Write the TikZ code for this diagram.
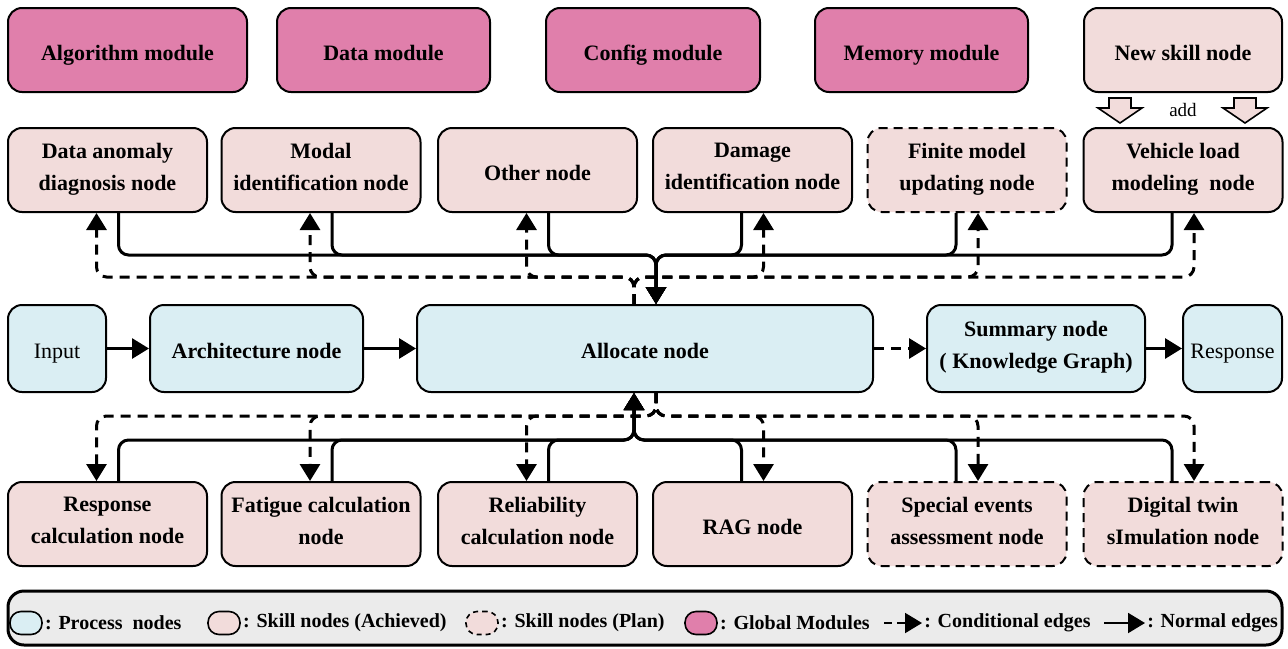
\documentclass[tikz,border=0pt]{standalone}
\usepackage{fontspec}
\setmainfont{Liberation Serif}
\usetikzlibrary{arrows.meta,positioning}

\definecolor{procblue}{HTML}{DAEEF3}
\definecolor{skillpink}{HTML}{F2DCDB}
\definecolor{modpink}{HTML}{E07FAB}
\definecolor{legendgray}{HTML}{EBEBEB}

\tikzset{
  box/.style={draw, line width=1pt, rounded corners=7pt, align=center,
    font=\fontsize{11}{16}\selectfont\bfseries, inner sep=2pt,
    execute at begin node={\rule{0pt}{13.5pt}}, execute at end node={\rule[-3.3pt]{0pt}{0pt}}},
  process/.style={box, fill=procblue, minimum height=43.5pt},
  plaintext/.style={font=\fontsize{11}{16}\selectfont},
  skill/.style={box, fill=skillpink, minimum width=99.5pt, minimum height=42pt},
  plan/.style={skill, dash pattern=on 4.5pt off 3pt},
  module/.style={box, fill=modpink, minimum height=42pt},
  normal/.style={line width=1.5pt, rounded corners=5pt, -{Triangle[length=8.5pt,width=10pt]}},
  cond/.style={normal, dash pattern=on 5pt off 3.5pt},
  keyshape/.style={draw, line width=0.8pt, rounded corners=5.5pt, minimum width=16pt, minimum height=11.5pt, inner sep=0pt},
  keytext/.style={font=\fontsize{10}{12}\selectfont\bfseries, inner sep=0pt}
}

\begin{document}
\begin{tikzpicture}[x=0.5pt,y=-0.5pt]
    \useasboundingbox (0,0) rectangle (1288,648);

    % global modules
    \node[module, minimum width=119.5pt] (algo) at (127.5,50) {Algorithm module};
    \node[module, minimum width=106.5pt] (data) at (383.5,50) {Data module};
    \node[module, minimum width=107pt] (config) at (653,50) {Config module};
    \node[module, minimum width=106.5pt] (memory) at (921.5,50) {Memory module};
    \node[skill, minimum width=99pt] (newskill) at (1183,50) {New skill node};

    % skill nodes, upper row
    \node[skill] (dan) at (107.5,170) {Data anomaly\\diagnosis node};
    \node[skill] (modal) at (321,170) {Modal\\identification node};
    \node[skill] (other) at (537.5,170) {Other node};
    \node[skill] (damage) at (752.5,170) {Damage\\identification node};
    \node[plan] (finite) at (967,170) {Finite model\\updating node};
    \node[skill] (vehicle) at (1183,170) {Vehicle load\\modeling\ \ node};

    % process nodes
    \node[process, plaintext, minimum width=49pt] (input) at (57,348.5) {Input};
    \node[process, minimum width=106.5pt] (arch) at (256.5,348.5) {Architecture node};
    \node[process, minimum width=228pt] (alloc) at (645,348.5) {Allocate node};
    \node[process, minimum width=109pt] (summary) at (1036,348.5) {Summary node\\( Knowledge Graph)};
    \node[process, plaintext, minimum width=49.5pt] (response) at (1232.5,348.5) {Response};

    % skill nodes, lower row
    \node[skill] (resp) at (107.5,524) {Response\\calculation node};
    \node[skill] (fatigue) at (321,524) {Fatigue calculation\\node};
    \node[skill] (reliab) at (537.5,524) {Reliability\\calculation node};
    \node[skill] (rag) at (752.5,524) {RAG node};
    \node[plan] (special) at (967,524) {Special events\\assessment node};
    \node[plan] (twin) at (1183,524) {Digital twin\\sImulation node};

    % add arrows
    \foreach \x in {1120,1245}{
        \draw[line width=0.8pt, fill=skillpink] (\x-11,98) -- (\x+11,98) -- (\x+11,108) -- (\x+22,108)
            -- (\x,123) -- (\x-22,108) -- (\x-11,108) -- cycle;
    }
    \node[plaintext, font=\fontsize{9.5}{11}\selectfont] (addlabel) at (1183,110) {add};

    % main flow
    \draw[normal] (input) -- (arch);
    \draw[normal] (arch) -- (alloc);
    \draw[cond] (alloc) -- (summary);
    \draw[normal] (summary) -- (response);

    % buses
    \coordinate (tbus) at (656,255);
    \coordinate (tdash) at (634,277);
    \coordinate (bbus) at (634,440);
    \coordinate (bdash) at (656,416);

    \foreach \n/\a/\b in {dan/5.5/-5.5, modal/5.5/-5.5, other/5.5/-5.5,
                          damage/-5.5/5.5, finite/-5.5/5.5, vehicle/-5.5/5.5}{
        \draw[normal] ([xshift=\a pt]\n.south) |- (tbus) -- ([xshift=5.5pt]alloc.north);
        \draw[cond] ([xshift=-5.5pt]alloc.north) -- (tdash) -| ([xshift=\b pt]\n.south);
    }
    \foreach \n/\a/\b in {resp/5.5/-5.5, fatigue/5.5/-5.5, reliab/5.5/-5.5,
                          rag/-5.5/5.5, special/-5.5/5.5, twin/-5.5/5.5}{
        \draw[normal] ([xshift=\a pt]\n.north) |- (bbus) -- ([xshift=-5.5pt]alloc.south);
        \draw[cond] ([xshift=5.5pt]alloc.south) -- (bdash) -| ([xshift=\b pt]\n.north);
    }

    % legend
    \draw[line width=1.5pt, fill=legendgray, rounded corners=8pt] (8,591) rectangle (1282,645);
    \node[keyshape, fill=procblue] (kproc) at (26,623) {};
    \node[keytext, right=1pt of kproc] {: Process\ \ nodes};
    \node[keyshape, fill=skillpink] (kach) at (224,623) {};
    \node[keytext, right=1pt of kach] {: Skill nodes (Achieved)};
    \node[keyshape, fill=skillpink, dash pattern=on 2.5pt off 2pt] (kplan) at (482,623) {};
    \node[keytext, right=1pt of kplan] {: Skill nodes (Plan)};
    \node[keyshape, fill=modpink] (kmod) at (701,623) {};
    \node[keytext, right=1pt of kmod] {: Global Modules};
    \coordinate (kca) at (884,623);
    \coordinate (kcb) at (922,623);
    \draw[cond, line width=1pt, dash pattern=on 4pt off 2.5pt] (kca) -- (kcb);
    \node[keytext, right=1pt of kcb] {: Conditional edges};
    \coordinate (kna) at (1104,623);
    \coordinate (knb) at (1145,623);
    \draw[normal, line width=1pt] (kna) -- (knb);
    \node[keytext, right=1pt of knb] {: Normal edges};

\end{tikzpicture}
\end{document}
